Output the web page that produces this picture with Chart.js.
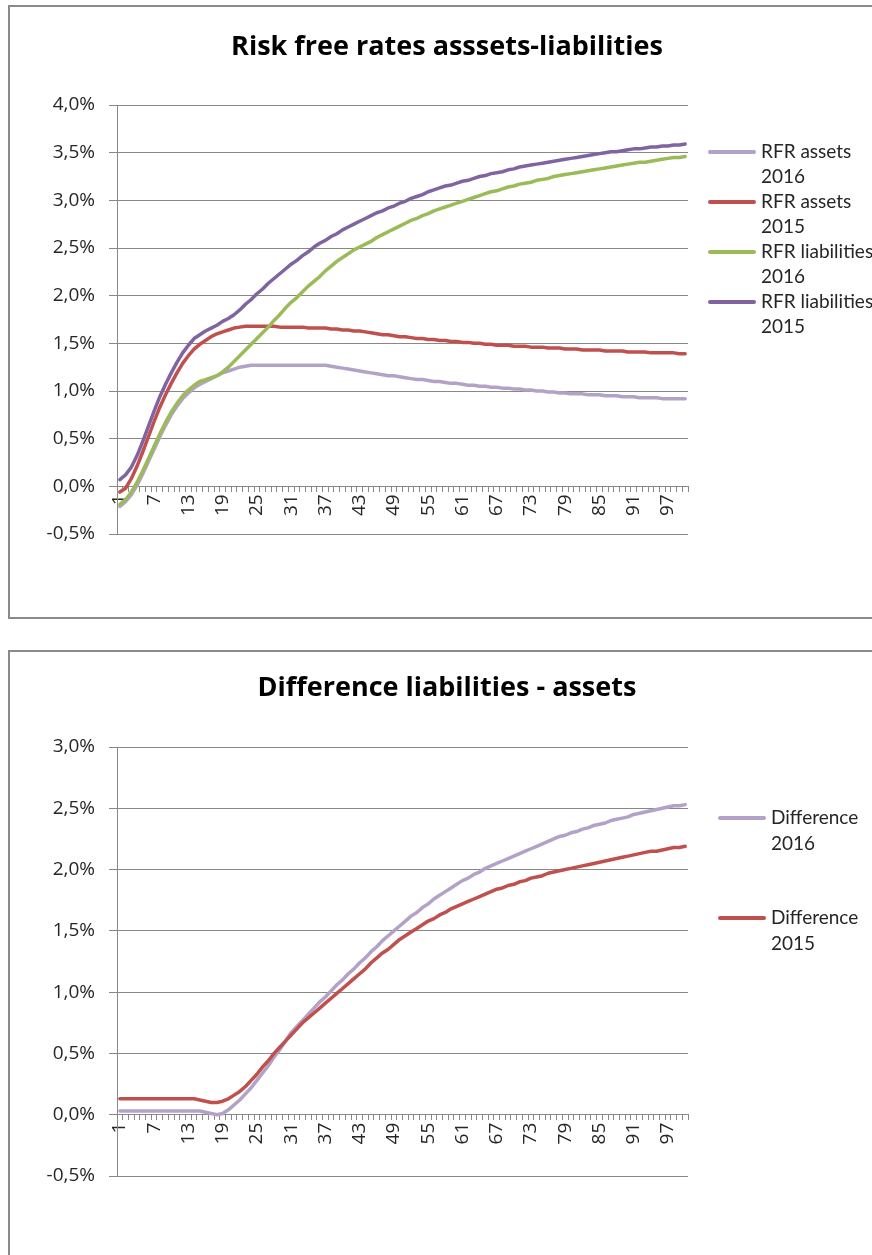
<!DOCTYPE html>
<html>
<head>
<meta charset="utf-8">
<script src="https://cdn.jsdelivr.net/npm/chart.js@4.4.1/dist/chart.umd.min.js"></script>
<style>
  body { margin: 0; background: #fff; width: 872px; height: 1255px; overflow: hidden; position: relative; }
  .box { position: absolute; border: 2px solid #8a8a8a; background: #fff; }
  #box1 { left: 8px; top: 5px; width: 900px; height: 610px; }
  #box2 { left: 8px; top: 650px; width: 900px; height: 700px; }
  canvas { position: absolute; left: 0; top: 0; }
</style>
</head>
<body>
<div class="box" id="box1"><canvas id="rates" width="862" height="610"></canvas></div>
<div class="box" id="box2"><canvas id="diff" width="862" height="603"></canvas></div>

<script>
// maturities in years
var maturities = Array.from({ length: 100 }, (_, i) => String(i + 1));

// risk free rates, in %
var rfrAssets2016 = [
  -0.21, -0.16, -0.09, 0.01, 0.13, 0.26, 0.39, 0.52, 0.64, 0.75,
  0.84, 0.92, 0.98, 1.03, 1.07, 1.10, 1.13, 1.16, 1.19, 1.21,
  1.23, 1.25, 1.26, 1.27, 1.27, 1.27, 1.27, 1.27, 1.27, 1.27,
  1.27, 1.27, 1.27, 1.27, 1.27, 1.27, 1.27, 1.26, 1.25, 1.24,
  1.23, 1.22, 1.21, 1.20, 1.19, 1.18, 1.17, 1.16, 1.16, 1.15,
  1.14, 1.13, 1.12, 1.12, 1.11, 1.10, 1.10, 1.09, 1.08, 1.08,
  1.07, 1.06, 1.06, 1.05, 1.05, 1.04, 1.04, 1.03, 1.03, 1.02,
  1.02, 1.01, 1.01, 1.00, 1.00, 0.99, 0.99, 0.98, 0.98, 0.97,
  0.97, 0.97, 0.96, 0.96, 0.96, 0.95, 0.95, 0.95, 0.94, 0.94,
  0.94, 0.93, 0.93, 0.93, 0.93, 0.92, 0.92, 0.92, 0.92, 0.92
];
var rfrAssets2015 = [
  -0.06, -0.02, 0.08, 0.21, 0.36, 0.52, 0.68, 0.83, 0.96, 1.08,
  1.19, 1.29, 1.37, 1.44, 1.49, 1.53, 1.57, 1.60, 1.62, 1.64,
  1.66, 1.67, 1.68, 1.68, 1.68, 1.68, 1.68, 1.68, 1.67, 1.67,
  1.67, 1.67, 1.67, 1.66, 1.66, 1.66, 1.66, 1.65, 1.65, 1.64,
  1.64, 1.63, 1.63, 1.62, 1.61, 1.60, 1.59, 1.59, 1.58, 1.57,
  1.57, 1.56, 1.55, 1.55, 1.54, 1.54, 1.53, 1.53, 1.52, 1.52,
  1.51, 1.51, 1.50, 1.50, 1.49, 1.49, 1.48, 1.48, 1.48, 1.47,
  1.47, 1.47, 1.46, 1.46, 1.46, 1.45, 1.45, 1.45, 1.44, 1.44,
  1.44, 1.43, 1.43, 1.43, 1.43, 1.42, 1.42, 1.42, 1.42, 1.41,
  1.41, 1.41, 1.41, 1.40, 1.40, 1.40, 1.40, 1.40, 1.39, 1.39
];
var rfrLiabilities2016 = [
  -0.19, -0.14, -0.06, 0.04, 0.16, 0.29, 0.42, 0.55, 0.67, 0.78,
  0.87, 0.95, 1.01, 1.06, 1.10, 1.12, 1.14, 1.16, 1.20, 1.25,
  1.31, 1.37, 1.43, 1.49, 1.55, 1.61, 1.67, 1.74, 1.80, 1.87,
  1.93, 1.98, 2.04, 2.10, 2.15, 2.20, 2.26, 2.31, 2.36, 2.40,
  2.44, 2.48, 2.51, 2.54, 2.57, 2.61, 2.64, 2.67, 2.70, 2.73,
  2.76, 2.79, 2.81, 2.84, 2.86, 2.89, 2.91, 2.93, 2.95, 2.97,
  2.99, 3.01, 3.03, 3.05, 3.07, 3.09, 3.10, 3.12, 3.14, 3.15,
  3.17, 3.18, 3.19, 3.21, 3.22, 3.23, 3.25, 3.26, 3.27, 3.28,
  3.29, 3.30, 3.31, 3.32, 3.33, 3.34, 3.35, 3.36, 3.37, 3.38,
  3.39, 3.40, 3.40, 3.41, 3.42, 3.43, 3.44, 3.45, 3.45, 3.46
];
var rfrLiabilities2015 = [
  0.07, 0.12, 0.20, 0.32, 0.47, 0.63, 0.79, 0.94, 1.07, 1.19,
  1.30, 1.40, 1.48, 1.55, 1.59, 1.63, 1.66, 1.69, 1.73, 1.76,
  1.80, 1.85, 1.91, 1.96, 2.02, 2.07, 2.13, 2.18, 2.23, 2.28,
  2.33, 2.37, 2.42, 2.46, 2.51, 2.55, 2.58, 2.62, 2.65, 2.69,
  2.72, 2.75, 2.78, 2.81, 2.84, 2.87, 2.89, 2.92, 2.94, 2.97,
  2.99, 3.02, 3.04, 3.06, 3.09, 3.11, 3.13, 3.15, 3.16, 3.18,
  3.20, 3.21, 3.23, 3.25, 3.26, 3.28, 3.29, 3.30, 3.32, 3.33,
  3.35, 3.36, 3.37, 3.38, 3.39, 3.40, 3.41, 3.42, 3.43, 3.44,
  3.45, 3.46, 3.47, 3.48, 3.49, 3.50, 3.51, 3.51, 3.52, 3.53,
  3.54, 3.54, 3.55, 3.56, 3.56, 3.57, 3.57, 3.58, 3.58, 3.59
];

// liabilities minus assets, in %
var difference2016 = [
  0.03, 0.03, 0.03, 0.03, 0.03, 0.03, 0.03, 0.03, 0.03, 0.03,
  0.03, 0.03, 0.03, 0.03, 0.03, 0.02, 0.01, 0.00, 0.01, 0.04,
  0.08, 0.12, 0.17, 0.22, 0.28, 0.34, 0.40, 0.47, 0.53, 0.60,
  0.67, 0.72, 0.77, 0.82, 0.87, 0.92, 0.96, 1.01, 1.06, 1.10,
  1.15, 1.19, 1.24, 1.28, 1.33, 1.37, 1.42, 1.46, 1.50, 1.54,
  1.58, 1.62, 1.65, 1.69, 1.72, 1.76, 1.79, 1.82, 1.85, 1.88,
  1.91, 1.93, 1.96, 1.98, 2.01, 2.03, 2.05, 2.07, 2.09, 2.11,
  2.13, 2.15, 2.17, 2.19, 2.21, 2.23, 2.25, 2.27, 2.28, 2.30,
  2.31, 2.33, 2.34, 2.36, 2.37, 2.38, 2.40, 2.41, 2.42, 2.43,
  2.45, 2.46, 2.47, 2.48, 2.49, 2.50, 2.51, 2.52, 2.52, 2.53
];
var difference2015 = [
  0.13, 0.13, 0.13, 0.13, 0.13, 0.13, 0.13, 0.13, 0.13, 0.13,
  0.13, 0.13, 0.13, 0.13, 0.12, 0.11, 0.10, 0.10, 0.11, 0.13,
  0.16, 0.19, 0.23, 0.28, 0.33, 0.39, 0.44, 0.50, 0.55, 0.60,
  0.65, 0.70, 0.75, 0.79, 0.83, 0.87, 0.91, 0.95, 0.99, 1.03,
  1.07, 1.11, 1.15, 1.19, 1.24, 1.28, 1.32, 1.35, 1.39, 1.43,
  1.46, 1.49, 1.52, 1.55, 1.58, 1.60, 1.63, 1.65, 1.68, 1.70,
  1.72, 1.74, 1.76, 1.78, 1.80, 1.82, 1.84, 1.85, 1.87, 1.88,
  1.90, 1.91, 1.93, 1.94, 1.95, 1.97, 1.98, 1.99, 2.00, 2.01,
  2.02, 2.03, 2.04, 2.05, 2.06, 2.07, 2.08, 2.09, 2.10, 2.11,
  2.12, 2.13, 2.14, 2.15, 2.15, 2.16, 2.17, 2.18, 2.18, 2.19
];

var lavender = "#b3a2c7";
var red = "#c0504d";
var green = "#9bbb59";
var purple = "#8064a2";
var gridGray = "#888888";
var textColor = "#262626";

Chart.defaults.font.family = "'Open Sans', Lato, sans-serif";
Chart.defaults.color = textColor;

// Excel style legend on the right, label wrapped on two lines
var sideLegend = {
  id: "sideLegend",
  afterDraw: function (chart, args, opts) {
    var ctx = chart.ctx;
    ctx.save();
    ctx.font = "19px Lato";
    ctx.fillStyle = textColor;
    ctx.textBaseline = "middle";
    ctx.lineCap = "round";
    ctx.lineWidth = 4;
    chart.data.datasets.forEach(function (ds, i) {
      var y = opts.top + i * opts.pitch;
      var cut = ds.label.lastIndexOf(" ");
      ctx.strokeStyle = ds.borderColor;
      ctx.beginPath();
      ctx.moveTo(opts.x + 2, y);
      ctx.lineTo(opts.x + 46, y);
      ctx.stroke();
      ctx.fillText(ds.label.slice(0, cut), opts.x + 53, y);
      ctx.fillText(ds.label.slice(cut + 1), opts.x + 53, y + opts.lineGap);
    });
    ctx.restore();
  }
};

function series(label, values, color, order) {
  return {
    label: label,
    data: values,
    borderColor: color,
    backgroundColor: color,
    borderWidth: 3.5,
    borderCapStyle: "round",
    borderJoinStyle: "round",
    pointRadius: 0,
    order: order
  };
}

function lineChart(id, datasets, yMin, yMax, title, titlePad, bottomPad, legend) {
  return new Chart(id, {
    type: "line",
    data: { labels: maturities, datasets: datasets },
    options: {
      responsive: false,
      animation: false,
      devicePixelRatio: 1,
      layout: { padding: { left: 12, right: 0, top: 0, bottom: bottomPad } },
      plugins: {
        legend: { display: false },
        tooltip: { enabled: false },
        title: {
          display: true,
          text: title,
          color: "#000",
          font: { size: 27, weight: "bold" },
          padding: titlePad
        },
        sideLegend: legend
      },
      scales: {
        x: {
          position: { y: 0 },
          offset: true,
          grid: { drawOnChartArea: false, drawTicks: true, tickLength: 5, offset: true, color: gridGray },
          border: { color: gridGray },
          ticks: {
            autoSkip: false,
            maxRotation: 90,
            minRotation: 90,
            padding: 3,
            font: { size: 19 },
            callback: function (v, i) { return i % 6 === 0 ? this.getLabelForValue(v) : ""; }
          }
        },
        y: {
          min: yMin,
          max: yMax,
          afterFit: function (s) { s.width = 95; },
          grid: { color: gridGray, tickLength: 8 },
          border: { color: gridGray },
          ticks: {
            stepSize: 0.5,
            padding: 14,
            font: { size: 19 },
            callback: function (v) { return v.toFixed(1).replace(".", ",") + "%"; }
          }
        },
        // empty axis keeping room for the legend on the right
        legendSpace: {
          position: "right",
          afterFit: function (s) { s.width = 184; },
          grid: { display: false },
          border: { display: false },
          ticks: { display: false }
        }
      }
    },
    plugins: [sideLegend]
  });
}

lineChart("rates", [
  series("RFR assets 2016", rfrAssets2016, lavender, 4),
  series("RFR assets 2015", rfrAssets2015, red, 3),
  series("RFR liabilities 2016", rfrLiabilities2016, green, 2),
  series("RFR liabilities 2015", rfrLiabilities2015, purple, 1)
], -0.5, 4.0, "Risk free rates asssets-liabilities", { top: 24, bottom: 41.6 }, 83,
  { x: 698, top: 145, pitch: 50, lineGap: 25 });

lineChart("diff", [
  series("Difference 2016", difference2016, lavender, 2),
  series("Difference 2015", difference2015, red, 1)
], -0.5, 3.0, "Difference liabilities - assets", { top: 19.8, bottom: 42.8 }, 79,
  { x: 708, top: 166, pitch: 100, lineGap: 26 });
</script>
</body>
</html>
